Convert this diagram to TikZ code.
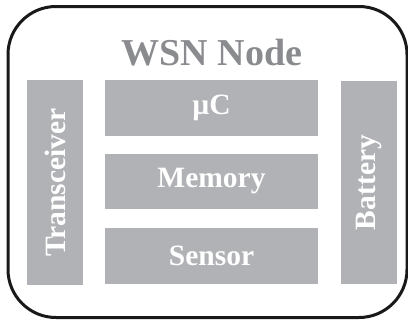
\documentclass[tikz,border=0pt]{standalone}
\usepackage{fontspec}
\setmainfont{Liberation Serif}
\definecolor{boxgray}{HTML}{B1B2B5}
\definecolor{titlegray}{HTML}{8A8B8E}
\begin{document}
\begin{tikzpicture}[x=1pt,y=-1pt,
  part/.style={fill=boxgray,draw=none,inner sep=0pt,text=white,font=\fontsize{29.5}{31}\selectfont\bfseries},
]
\useasboundingbox (0,0) rectangle (408,322);
\node[draw=black!90,line width=3pt,rounded corners=48pt,minimum width=399pt,minimum height=311pt,inner sep=0pt] (outer) at (207.5,162) {};
\node[text=titlegray,font=\fontsize{38}{40}\selectfont\bfseries] (title) at (212,53) {WSN Node};
\node[part,minimum width=56pt,minimum height=205pt] (trx) at (55,182.5) {};
\node[part,rotate=90] at (trx.center) {Transceiver};
\node[part,minimum width=56pt,minimum height=203pt] (bat) at (369,182.5) {};
\node[part,rotate=90] at (bat.center) {Battery};
\node[part,minimum width=213pt,minimum height=56pt] (uc) at (211.5,108) {µC};
\node[part,minimum width=213pt,minimum height=55pt] (mem) at (211.5,181.5) {Memory};
\node[part,minimum width=213pt,minimum height=56pt] (sen) at (211.5,256) {Sensor};
\end{tikzpicture}
\end{document}
